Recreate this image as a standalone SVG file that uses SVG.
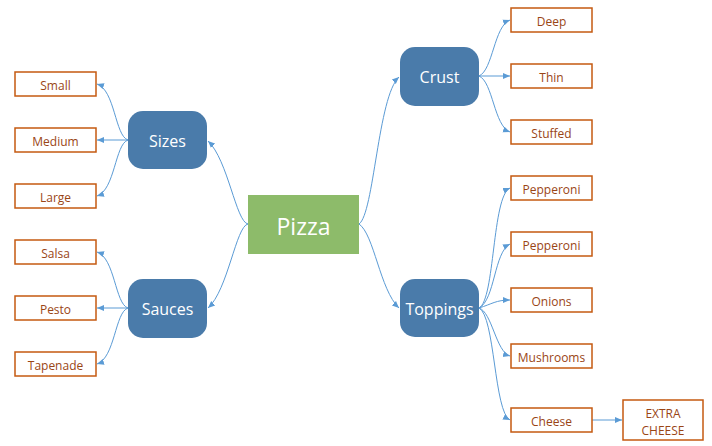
<svg xmlns="http://www.w3.org/2000/svg" width="712" height="446" viewBox="0 0 712 446">
<style>
.leaf rect{fill:#fff;stroke:#C55A11;stroke-width:1.5}
.leaf text{fill:#9A4515;font-family:"Open Sans","Noto Sans",sans-serif;font-size:12px;text-anchor:middle;dominant-baseline:central}
.cat rect{fill:#4A7BAA}
.cat text{fill:#fff;font-family:"Open Sans","Noto Sans",sans-serif;font-size:16px;text-anchor:middle;dominant-baseline:central}
.conn path{fill:none;stroke:#5B9BD5;stroke-width:1;marker-end:url(#arr)}
</style>
<defs>
<marker id="arr" markerUnits="userSpaceOnUse" markerWidth="8" markerHeight="8" refX="7" refY="4" orient="auto">
<path d="M0,1 L7,4 L0,7 Z" fill="#5B9BD5"/>
</marker>
</defs>
<g id="connectors" class="conn">
<path d="M248,224 C236,222 228,160 208,141"/>
<path d="M248,224 C236,226 228,290 208,308"/>
<path d="M359,224 C374,214 378,96 399,77"/>
<path d="M359,224 C374,234 380,290 399,308"/>
<path d="M128,140 C115,136 115,90 97,84"/>
<path d="M128,140 L97,140"/>
<path d="M128,140 C115,144 115,190 97,196"/>
<path d="M128,308 C115,304 115,258 97,252"/>
<path d="M128,308 L97,308"/>
<path d="M128,308 C115,312 115,358 97,364"/>
<path d="M479,76 C493,70 494,26 510,20"/>
<path d="M479,76 L510,76"/>
<path d="M479,76 C493,82 494,126 510,132"/>
<path d="M479,308 C495,300 492,196 510,188"/>
<path d="M479,308 C495,300 494,252 510,244"/>
<path d="M479,308 C492,304 496,300 510,300"/>
<path d="M479,308 C492,312 496,352 510,356"/>
<path d="M479,308 C495,316 494,412 510,420"/>
<path d="M592,420 L622,420"/>
</g>
<g id="pizza"><rect x="248" y="195" width="111" height="59" fill="#8DBB6A"/><text x="303.5" y="226" fill="#fff" font-family="Open Sans, Noto Sans, sans-serif" font-size="23" text-anchor="middle" dominant-baseline="central">Pizza</text></g>
<g id="sizes" class="cat"><rect x="128" y="111" width="79" height="58" rx="15"/><text x="167.5" y="141">Sizes</text></g>
<g id="sauces" class="cat"><rect x="128" y="279" width="79" height="59" rx="15"/><text x="167.5" y="309">Sauces</text></g>
<g id="crust" class="cat"><rect x="400" y="47" width="79" height="59" rx="15"/><text x="439.5" y="77">Crust</text></g>
<g id="toppings" class="cat"><rect x="400" y="279" width="79" height="58" rx="15"/><text x="439.5" y="309">Toppings</text></g>
<g id="small" class="leaf"><rect x="15" y="72" width="81" height="24"/><text x="55.5" y="85">Small</text></g>
<g id="medium" class="leaf"><rect x="15" y="128" width="81" height="24"/><text x="55.5" y="141">Medium</text></g>
<g id="large" class="leaf"><rect x="15" y="184" width="81" height="24"/><text x="55.5" y="197">Large</text></g>
<g id="salsa" class="leaf"><rect x="15" y="240" width="81" height="24"/><text x="55.5" y="253">Salsa</text></g>
<g id="pesto" class="leaf"><rect x="15" y="296" width="81" height="24"/><text x="55.5" y="309">Pesto</text></g>
<g id="tapenade" class="leaf"><rect x="15" y="352" width="81" height="24"/><text x="55.5" y="365">Tapenade</text></g>
<g id="deep" class="leaf"><rect x="511" y="8" width="81" height="24"/><text x="551.5" y="21">Deep</text></g>
<g id="thin" class="leaf"><rect x="511" y="64" width="81" height="24"/><text x="551.5" y="77">Thin</text></g>
<g id="stuffed" class="leaf"><rect x="511" y="120" width="81" height="24"/><text x="551.5" y="133">Stuffed</text></g>
<g id="pepperoni1" class="leaf"><rect x="511" y="176" width="81" height="24"/><text x="551.5" y="189">Pepperoni</text></g>
<g id="pepperoni2" class="leaf"><rect x="511" y="232" width="81" height="24"/><text x="551.5" y="245">Pepperoni</text></g>
<g id="onions" class="leaf"><rect x="511" y="288" width="81" height="24"/><text x="551.5" y="301">Onions</text></g>
<g id="mushrooms" class="leaf"><rect x="511" y="344" width="81" height="24"/><text x="551.5" y="357">Mushrooms</text></g>
<g id="cheese" class="leaf"><rect x="511" y="408" width="81" height="24"/><text x="551.5" y="421">Cheese</text></g>
<g id="extracheese" class="leaf"><rect x="623" y="400" width="80" height="40"/><text x="663" y="413">EXTRA</text><text x="663" y="430">CHEESE</text></g>
</svg>
